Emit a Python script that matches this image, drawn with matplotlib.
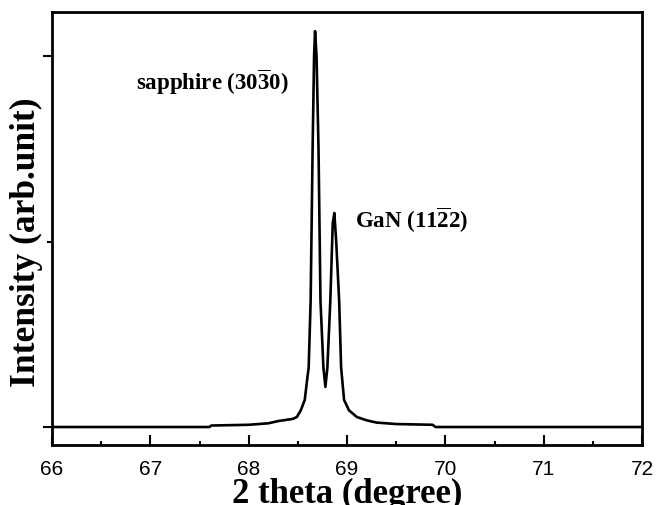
"""XRD 2theta scan: sapphire (30-30) and GaN (11-22) reflections."""
import matplotlib

matplotlib.use("Agg")
import matplotlib.pyplot as plt

# 2theta (deg) and normalised intensity
two_theta = [66.0, 67.60, 67.62, 68.00, 68.20, 68.30, 68.40, 68.45, 68.49, 68.53,
             68.57, 68.60, 68.61, 68.63, 68.65, 68.665, 68.675, 68.69, 68.71, 68.73,
             68.76, 68.78, 68.80, 68.83, 68.855, 68.871, 68.89, 68.92, 68.94, 68.97,
             69.02, 69.10, 69.20, 69.30, 69.50, 69.87, 69.90, 72.0]
intensity = [0.0, 0.0, 0.004, 0.006, 0.010, 0.016, 0.020, 0.022, 0.027, 0.045,
             0.073, 0.14, 0.16, 0.34, 0.75, 1.00, 1.067, 1.00, 0.75, 0.34,
             0.16, 0.108, 0.16, 0.34, 0.55, 0.577, 0.50, 0.34, 0.16, 0.073,
             0.045, 0.027, 0.018, 0.012, 0.008, 0.006, 0.0, 0.0]

peak_labels = [r"sapphire (30$\overline{3}$0)", r"GaN (11$\overline{2}$2)"]
peak_label_x = [67.63, 69.66]
peak_label_y = [0.93, 0.558]

plt.rcParams["mathtext.fontset"] = "custom"
plt.rcParams["mathtext.rm"] = "Liberation Serif:bold"
plt.rcParams["mathtext.it"] = "Liberation Serif:bold:italic"
plt.rcParams["mathtext.bf"] = "Liberation Serif:bold"

fig = plt.figure(figsize=(6.56, 5.05), dpi=100)
ax = fig.add_axes([0.0793, 0.1188, 0.8994, 0.8574])

ax.plot(two_theta, intensity, color="black", lw=1.9)

for lab, x, y in zip(peak_labels, peak_label_x, peak_label_y):
    ax.text(x, y, lab, ha="center", va="center", fontsize=16.5,
            family="Liberation Serif", fontweight="bold")

ax.set_xlim(66, 72)
ax.set_ylim(-0.0485, 1.1186)
ax.set_xticks(range(66, 73))
ax.set_xticks([66.5 + i for i in range(6)], minor=True)
ax.set_yticks([0, 1])
ax.set_yticks([0.5], minor=True)
ax.set_yticklabels([])

for s in ax.spines.values():
    s.set_linewidth(2.0)

ax.tick_params(axis="x", which="major", direction="in", length=7, width=1.5,
               pad=11, labelsize=15)
ax.tick_params(axis="x", which="minor", direction="in", length=3, width=1.5)
ax.tick_params(axis="y", which="major", direction="out", length=6.5, width=1.5)
ax.tick_params(axis="y", which="minor", direction="out", length=3.5, width=1.5)
for t in ax.get_xticklabels():
    t.set_family("Liberation Sans")

ax.set_xlabel("2 theta (degree)", family="Liberation Serif", fontweight="bold",
              fontsize=25)
ax.set_ylabel("Intensity (arb.unit)", family="Liberation Serif", fontweight="bold",
              fontsize=25.5)
ax.xaxis.set_label_coords(0.5, -0.077)
ax.yaxis.set_label_coords(-0.016, 0.469)

fig.savefig("out.png", dpi=100)
plt.close(fig)
